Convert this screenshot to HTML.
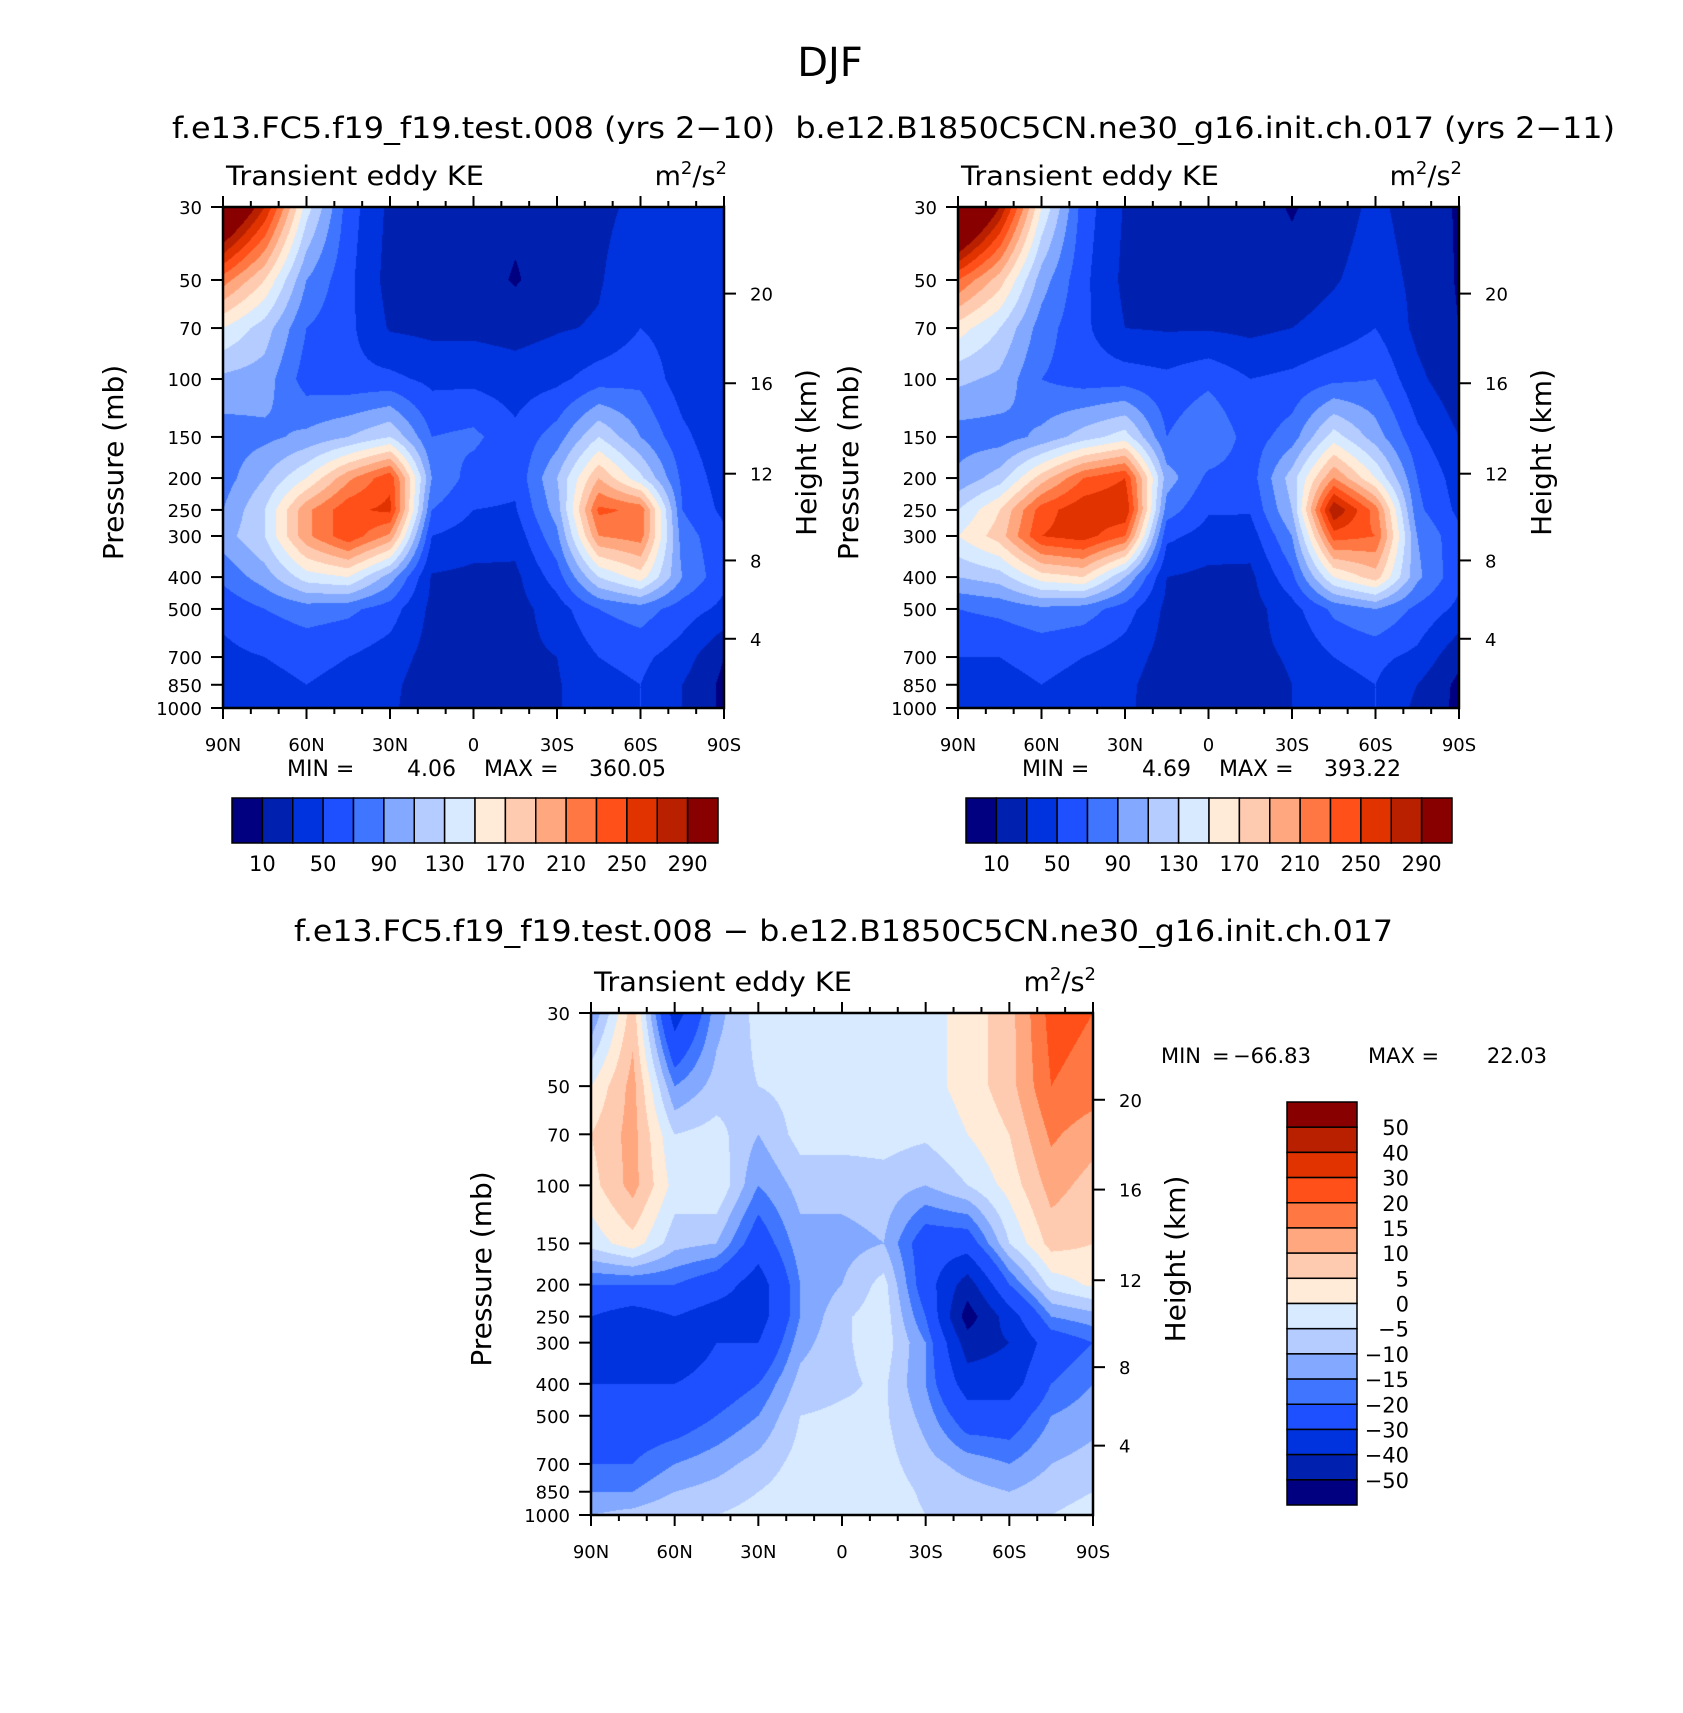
<!DOCTYPE html>
<html><head><meta charset="utf-8"><title>DJF Transient eddy KE</title>
<style>
html,body{margin:0;padding:0;background:#fff;}
#wrap{position:relative;width:1683px;height:1713px;overflow:hidden;background:#fff;font-family:"DejaVu Sans","Liberation Sans",sans-serif;}
canvas{position:absolute;}
#ov{position:absolute;left:0;top:0;}
</style></head>
<body>
<div id="wrap">
<canvas id="c1"></canvas>
<canvas id="c2"></canvas>
<canvas id="c3"></canvas>
<svg id="ov" width="1683" height="1713" xmlns="http://www.w3.org/2000/svg" font-family="DejaVu Sans, Liberation Sans, sans-serif">
<text x="830" y="76" font-size="40" text-anchor="middle">DJF</text>
<text x="172" y="138" font-size="29" textLength="1443" lengthAdjust="spacingAndGlyphs" xml:space="preserve">f.e13.FC5.f19_f19.test.008 (yrs 2−10)  b.e12.B1850C5CN.ne30_g16.init.ch.017 (yrs 2−11)</text>
<text x="294" y="941" font-size="29" textLength="1099" lengthAdjust="spacingAndGlyphs">f.e13.FC5.f19_f19.test.008 − b.e12.B1850C5CN.ne30_g16.init.ch.017</text>
</svg>
</div>
<script>
// ---- data ----
const lats = [90,75,60,45,30,15,0,-15,-30,-45,-60,-75,-90];
const levels = [30,50,70,100,150,200,250,300,400,500,700,850,1000];
const heightTicks = [4,8,12,16,20];
const heightTickPressure = [616,356,194,103,55];
const latTickLabels = ["90N","60N","30N","0","30S","60S","90S"];
const latTickValues = [90,60,30,0,-30,-60,-90];
const presTickLabels = ["30","50","70","100","150","200","250","300","400","500","700","850","1000"];
const keLevels = [10,30,50,70,90,110,130,150,170,190,210,230,250,270,290];
const diffLevels = [-50,-40,-30,-20,-15,-10,-5,0,5,10,15,20,30,40,50];
const palette = ["#000080","#0020B0","#0033DD","#1E50FF","#4076FF","#82A8FF","#B4CCFF","#D8EAFF","#FFEBD8","#FFCBB0","#FFA880","#FF7843","#FF501A","#E03300","#B82000","#880000"];
// panel 1 (columns by latitude, values by level)
const ke1 = [
 [360,220,150,105,80,80,90,100,75,55,45,45,45],
 [270,170,120,100,85,110,130,130,100,70,50,45,45],
 [140,90,70,60,95,150,205,205,140,80,55,50,45],
 [60,55,55,55,110,205,245,245,150,75,50,45,40],
 [25,22,28,55,130,245,255,205,100,60,40,35,35],
 [10,15,25,45,70,90,70,50,28,25,22,18,12],
 [22,20,25,45,75,60,50,40,25,22,22,18,12],
 [15,8,22,40,55,55,48,38,25,22,25,22,25],
 [10,22,28,45,80,110,100,85,60,40,30,28,28],
 [25,28,32,60,130,190,235,210,130,70,50,45,45],
 [35,45,50,65,90,135,225,220,160,80,55,50,50],
 [50,45,40,40,55,65,70,80,90,60,40,30,30],
 [30,30,30,30,35,40,45,55,55,45,10,5,5]
];
const ke2 = [
 [393,230,160,115,80,95,130,150,110,70,50,45,45],
 [290,180,130,105,80,120,170,180,120,75,50,45,45],
 [150,100,80,70,95,180,240,250,160,85,55,50,45],
 [60,55,55,60,120,230,265,260,170,80,50,45,40],
 [28,25,30,60,140,250,270,230,110,60,40,35,35],
 [25,22,28,55,70,100,80,55,30,25,22,18,15],
 [25,22,28,65,90,65,52,42,25,22,22,18,15],
 [20,20,25,50,60,60,52,40,25,22,25,22,25],
 [8,18,30,55,80,120,110,90,65,42,32,30,30],
 [20,28,38,65,140,210,290,240,150,75,50,45,45],
 [35,40,50,70,100,150,220,230,180,90,55,50,50],
 [20,25,25,35,55,70,75,90,95,65,45,30,25],
 [8,8,10,15,30,40,45,55,55,45,15,5,5]
];
const diff = [
 [-15,0,5,3,-3,-20,-30,-40,-30,-30,-20,-15,-10],
 [8,12,12,12,3,-20,-35,-30,-30,-25,-20,-15,-8],
 [-35,-15,-5,-2,-8,-20,-30,-40,-30,-25,-15,-10,-5],
 [-12,-8,-3,0,-10,-25,-35,-30,-25,-20,-12,-8,-5],
 [-3,-5,-10,-15,-25,-35,-35,-30,-20,-15,-8,-5,-3],
 [-3,-3,-3,-8,-12,-15,-15,-12,-8,-5,-3,-2,-2],
 [-2,-2,-3,-8,-12,-10,-6,-6,-6,-4,-2,-2,-2],
 [-2,-2,-3,-7,-10,-3,-2,-2,-4,-4,-3,-2,-2],
 [-2,-2,-4,-10,-25,-25,-20,-15,-15,-12,-8,-6,-5],
 [2,2,0,-5,-25,-45,-55,-45,-35,-25,-12,-8,-5],
 [8,8,5,2,-5,-20,-35,-40,-35,-25,-15,-10,-7],
 [22,20,16,12,7,-3,-15,-25,-20,-15,-10,-7,-5],
 [20,18,12,8,5,1,-12,-20,-15,-12,-8,-5,-3]
];
// ---- layout ----
const panels = [
 {id:"c1",x0:223,y0:207,w:501,h:501,data:ke1,lv:keLevels,name:"model-a"},
 {id:"c2",x0:958,y0:207,w:501,h:501,data:ke2,lv:keLevels,name:"model-b"},
 {id:"c3",x0:591,y0:1013,w:502,h:502,data:diff,lv:diffLevels,name:"difference"}
];
const LP0=Math.log(30), LP1=Math.log(1000);
const logLev = levels.map(Math.log);
function yOf(p,P){return P.y0+(Math.log(p)-LP0)/(LP1-LP0)*P.h;}
function xOf(lat,P){return P.x0+(90-lat)/180*P.w;}
function sample(data,fi,lp){
  let i=Math.min(Math.max(Math.floor(fi),0),lats.length-2); let tx=fi-i;
  let j=0; while(j<levels.length-2 && lp>logLev[j+1]) j++;
  let ty=(lp-logLev[j])/(logLev[j+1]-logLev[j]); ty=Math.min(Math.max(ty,0),1);
  const a=data[i][j],b=data[i+1][j],c=data[i][j+1],d=data[i+1][j+1];
  return (a*(1-tx)+b*tx)*(1-ty)+(c*(1-tx)+d*tx)*ty;
}
function hexRGB(h){return [parseInt(h.substr(1,2),16),parseInt(h.substr(3,2),16),parseInt(h.substr(5,2),16)];}
const palRGB=palette.map(hexRGB);
panels.forEach(P=>{
  const cv=document.getElementById(P.id);
  cv.width=P.w; cv.height=P.h; cv.style.left=P.x0+"px"; cv.style.top=P.y0+"px";
  const ctx=cv.getContext("2d"); const img=ctx.createImageData(P.w,P.h);
  for(let py=0;py<P.h;py++){
    const lp=LP0+(py+0.5)/P.h*(LP1-LP0);
    for(let px=0;px<P.w;px++){
      const lat=90-(px+0.5)/P.w*180; const fi=(90-lat)/15;
      const v=sample(P.data,fi,lp);
      let k=0; while(k<P.lv.length && v>=P.lv[k]) k++;
      const c=palRGB[k]; const o=(py*P.w+px)*4;
      img.data[o]=c[0];img.data[o+1]=c[1];img.data[o+2]=c[2];img.data[o+3]=255;
    }
  }
  ctx.putImageData(img,0,0);
});
// ---- axes & annotations ----
const svg=document.getElementById("ov"); const NS="http://www.w3.org/2000/svg";
function el(tag,attrs,txt){const e=document.createElementNS(NS,tag);for(const k in attrs)e.setAttribute(k,attrs[k]);if(txt!==undefined)e.textContent=txt;svg.appendChild(e);return e;}
panels.forEach(P=>{
  const x1=P.x0+P.w,y1=P.y0+P.h;
  const fr=el("rect",{x:P.x0,y:P.y0,width:P.w,height:P.h,fill:"none",stroke:"#000","stroke-width":2.5});
  
  
  for(let lat=90;lat>=-90;lat-=10){
    const x=xOf(lat,P); const major=(lat%30===0); const L=major?11:6;
    const t1=el("line",{x1:x,x2:x,y1:y1,y2:y1+L,stroke:"#000","stroke-width":2});
    
    
    const t2=el("line",{x1:x,x2:x,y1:P.y0,y2:P.y0-L,stroke:"#000","stroke-width":2});
    
    
  }
  latTickLabels.forEach((lab,i)=>{
    const t=el("text",{x:xOf(latTickValues[i],P),y:y1+43,"font-size":18,"text-anchor":"middle"},lab);
    
    
  });
  levels.forEach((p,i)=>{
    const y=yOf(p,P);
    const l=el("line",{x1:P.x0-12,x2:P.x0,y1:y,y2:y,stroke:"#000","stroke-width":2});
    
    
    const t=el("text",{x:P.x0-21,y:y+7,"font-size":18,"text-anchor":"end"},presTickLabels[i]);
    
    
  });
  heightTicks.forEach((h,i)=>{
    const y=yOf(heightTickPressure[i],P);
    const l=el("line",{x1:x1,x2:x1+12,y1:y,y2:y,stroke:"#000","stroke-width":2});
    
    
    const t=el("text",{x:x1+26,y:y+7,"font-size":18},String(h));
    
    
  });
  const cy=P.y0+P.h*0.5;
  const yt=el("text",{x:0,y:0,"font-size":28,"text-anchor":"middle",transform:"translate("+(P.x0-100)+","+(cy+5)+") rotate(-90)"},"Pressure (mb)");
  
  
  const ht=el("text",{x:0,y:0,"font-size":28,"text-anchor":"middle",transform:"translate("+(x1+92)+","+(cy-5)+") rotate(-90)"},"Height (km)");
  
  
  const lt=el("text",{x:P.x0+3,y:P.y0-22,"font-size":27,textLength:258,lengthAdjust:"spacingAndGlyphs"},"Transient eddy KE");
  
  
  const un=el("text",{x:x1+3,y:P.y0-22,"font-size":27,"text-anchor":"end"});
  
  
  un.innerHTML='m<tspan dy="-11" font-size="18">2</tspan><tspan dy="11">/s</tspan><tspan dy="-11" font-size="18">2</tspan>';
});
// MIN/MAX labels
const minmax=[["4.06","360.05",223],["4.69","393.22",958]];
minmax.forEach(m=>{
  const b=m[2];
  const a=el("text",{x:b+64,y:776,"font-size":22},"MIN =");
   
  const c=el("text",{x:b+233,y:776,"font-size":22,"text-anchor":"end"},m[0]);
   
  const d=el("text",{x:b+261,y:776,"font-size":22},"MAX =");
   
  const e=el("text",{x:b+443,y:776,"font-size":22,"text-anchor":"end"},m[1]);
   
});
{
  const a=el("text",{x:1161,y:1063,"font-size":21},"MIN");
   
  const a2=el("text",{x:1212,y:1063,"font-size":21},"=");
   
  const c=el("text",{x:1233,y:1063,"font-size":21,textLength:78,lengthAdjust:"spacingAndGlyphs"},"−66.83");
   
  const d=el("text",{x:1368,y:1063,"font-size":21},"MAX =");
   
  const e=el("text",{x:1547,y:1063,"font-size":21,"text-anchor":"end"},"22.03");
   
}
// horizontal colorbars
[232,966].forEach(bx=>{
  const bw=486, by=798, bh=45, cw=bw/16;
  palette.forEach((col,i)=>{
    const r=el("rect",{x:bx+i*cw,y:by,width:cw,height:bh,fill:col,stroke:"#000","stroke-width":1.5});
    
    
  });
  keLevels.forEach((v,i)=>{
    if(i%2===0){
      const t=el("text",{x:bx+(i+1)*cw,y:871,"font-size":21,"text-anchor":"middle"},String(v));
      
      
    }
  });
});
// vertical colorbar
{
  const bx=1287, by=1102, bw=70, bh=403, ch=bh/16;
  palette.slice().reverse().forEach((col,i)=>{
    const r=el("rect",{x:bx,y:by+i*ch,width:bw,height:ch,fill:col,stroke:"#000","stroke-width":1.5});
    
    
  });
  diffLevels.slice().reverse().forEach((v,i)=>{
    const lab=(v<0?"−":"")+Math.abs(v);
    const t=el("text",{x:1409,y:by+(i+1)*ch+8,"font-size":21,"text-anchor":"end"},lab);
    
    
  });
}
</script>
</body></html>
